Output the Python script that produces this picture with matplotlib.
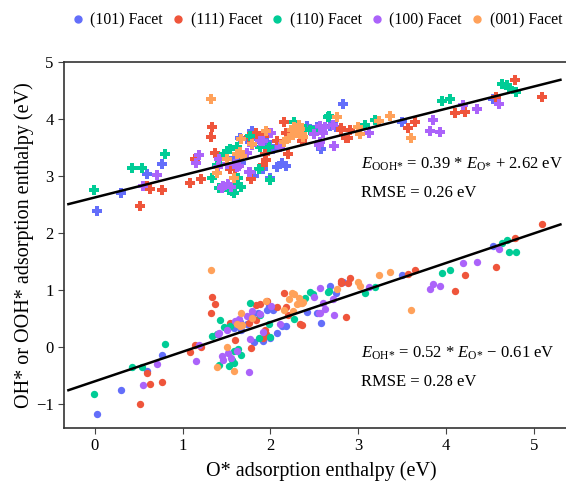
import matplotlib
matplotlib.use('Agg')
import matplotlib.pyplot as plt
from matplotlib.lines import Line2D

plt.rcParams['font.family'] = 'Liberation Serif'
plt.rcParams['mathtext.fontset'] = 'custom'
plt.rcParams['mathtext.rm'] = 'Liberation Serif'
plt.rcParams['mathtext.it'] = 'Liberation Serif:italic'

facets = ['(101) Facet', '(111) Facet', '(110) Facet', '(100) Facet', '(001) Facet']
colors = ['#636EFA', '#EF553B', '#00CC96', '#AB63FA', '#FFA15A']

# O*, OH*, OOH* adsorption enthalpies (eV) per facet
o_101 = [0.02, 0.30, 0.59, 0.77, 1.58, 1.65, 1.67, 1.73, 1.79, 1.81, 1.86, 1.91, 1.96, 1.98,
         2.00, 2.03, 2.07, 2.13, 2.18, 2.42, 2.53, 2.58, 2.68, 2.75, 2.82, 3.50, 4.53]
oh_101 = [-1.18, -0.76, -0.43, -0.14, 0.33, 0.43, 0.30, 0.39, 0.56, 0.08, 0.59, 0.09, 0.64, 0.71,
          0.15, 0.65, 0.24, 0.37, 0.36, 0.60, 0.59, 0.42, 1.06, 0.95, 1.14, 1.25, 1.76]
ooh_101 = [2.38, 2.69, 3.04, 3.20, 3.32, 3.67, 3.22, 3.64, 3.79, 2.99, 3.64, 3.12, 3.59, 3.52,
           2.97, 3.48, 3.16, 3.22, 3.17, 3.88, 3.85, 3.47, 3.88, 3.85, 4.27, 3.95, 4.35]

o_111 = [0.52, 0.60, 0.63, 0.77, 1.08, 1.14, 1.21, 1.32, 1.34, 1.37, 1.54, 1.60, 1.75, 1.78,
         1.83, 1.84, 1.88, 1.92, 1.94, 1.95, 1.96, 2.07, 2.15, 2.18, 2.20, 2.34, 2.36, 2.80,
         2.80, 2.86, 2.88, 2.90, 3.56, 3.64, 4.10, 4.21, 4.57, 4.78, 5.09]
oh_111 = [-1.01, -0.46, -0.66, -0.63, -0.09, 0.03, -0.01, 0.59, 0.87, 0.75, 0.42, 0.12, 0.42, -0.02,
          0.73, 0.46, 0.74, 0.15, 0.30, 0.22, 0.80, 0.70, 0.95, 0.70, 0.55, 0.39, 0.38, 1.16,
          1.11, 0.52, 1.12, 1.20, 1.27, 1.34, 0.97, 1.25, 1.40, 1.90, 2.15]
ooh_111 = [2.47, 2.82, 2.77, 2.75, 2.87, 3.30, 2.95, 3.68, 3.86, 3.40, 3.12, 3.12, 3.69, 2.94,
           3.75, 3.75, 3.69, 3.19, 3.38, 3.28, 3.76, 3.61, 3.94, 3.76, 3.39, 3.70, 3.62, 3.84,
           3.80, 3.66, 3.66, 3.80, 3.84, 3.95, 4.10, 4.13, 4.39, 4.68, 4.39]

o_110 = [-0.01, 0.42, 0.54, 0.80, 1.34, 1.39, 1.41, 1.43, 1.47, 1.50, 1.53, 1.54, 1.56, 1.58,
         1.59, 1.62, 1.63, 1.66, 1.77, 1.87, 1.88, 1.98, 2.00, 2.27, 2.39, 2.45, 2.48, 2.66,
         2.67, 3.08, 3.19, 3.95, 4.04, 4.63, 4.69, 4.72, 4.80]
oh_110 = [-0.84, -0.35, -0.35, 0.05, 0.18, 0.23, -0.33, 0.46, 0.35, 0.33, -0.34, 0.37, -0.23, -0.08,
          -0.29, 0.40, -0.04, -0.15, 0.76, 0.15, 0.56, 0.40, 0.17, 0.49, 0.86, 0.96, 0.92, 0.96,
          0.97, 0.95, 1.04, 1.29, 1.34, 1.82, 1.87, 1.67, 1.67]
ooh_110 = [2.76, 3.13, 3.13, 3.39, 2.97, 3.19, 2.78, 3.29, 3.38, 3.44, 2.76, 3.47, 2.73, 2.85,
           2.70, 3.50, 2.97, 2.80, 3.70, 3.12, 3.50, 3.51, 2.92, 3.94, 3.82, 3.80, 3.79, 4.03,
           4.06, 3.89, 3.98, 4.31, 4.35, 4.61, 4.60, 4.55, 4.48]

o_100 = [0.55, 0.71, 1.15, 1.19, 1.40, 1.41, 1.45, 1.46, 1.50, 1.52, 1.55, 1.60, 1.62, 1.64,
         1.73, 1.76, 1.77, 1.79, 1.88, 1.92, 2.01, 2.11, 2.49, 2.55, 2.56, 2.56, 2.60, 2.62,
         2.71, 2.72, 3.12, 3.81, 3.85, 3.93, 4.19, 4.35, 4.60]
oh_100 = [-0.67, -0.31, -0.25, 0.02, 0.22, 0.24, -0.17, -0.24, 0.29, -0.11, -0.20, 0.45, -0.08, 0.49,
          0.53, -0.45, 0.14, 0.63, 0.58, 0.26, 0.71, 0.39, 0.88, 0.59, 0.59, 1.03, 0.76, 0.66,
          0.84, 0.55, 1.04, 1.01, 1.10, 1.07, 1.47, 1.49, 1.72]
ooh_100 = [2.82, 3.02, 3.22, 3.36, 3.15, 3.29, 2.79, 2.82, 3.20, 2.85, 2.80, 3.20, 3.15, 3.18,
           3.41, 3.07, 3.07, 3.55, 3.61, 3.61, 3.76, 3.50, 3.73, 3.55, 3.59, 3.88, 3.76, 3.85,
           3.90, 3.53, 3.76, 3.78, 3.98, 3.77, 4.24, 4.18, 4.26]

o_001 = [1.32, 1.39, 1.50, 1.59, 1.62, 1.65, 1.67, 1.68, 1.79, 1.95, 2.15, 2.21, 2.24, 2.26,
         2.27, 2.30, 2.33, 2.34, 2.37, 2.36, 2.76, 3.00, 3.02, 3.24, 3.36, 3.60]
oh_001 = [1.34, -0.36, 0.00, -0.42, 0.39, 0.36, 0.59, 0.38, 0.50, 0.80, 0.65, 0.83, 0.95, 0.62,
          0.92, 0.74, 0.85, 0.77, 0.79, 0.77, 1.01, 1.14, 1.07, 1.26, 1.31, 0.64]
ooh_001 = [4.35, 3.05, 3.29, 2.97, 3.38, 3.42, 3.64, 3.35, 3.56, 3.79, 3.60, 3.66, 3.80, 3.72,
           3.86, 3.75, 3.90, 3.83, 3.68, 3.73, 4.03, 3.85, 3.74, 3.97, 4.05, 3.67]

o_vals = [o_101, o_111, o_110, o_100, o_001]
oh_vals = [oh_101, oh_111, oh_110, oh_100, oh_001]
ooh_vals = [ooh_101, ooh_111, ooh_110, ooh_100, ooh_001]

# linear fits
ooh_slope, ooh_icpt, ooh_rmse = 0.39, 2.62, 0.26
oh_slope, oh_icpt, oh_rmse = 0.52, -0.61, 0.28
fit_x = [-0.3, 5.3]

fig = plt.figure(figsize=(5.66, 4.83), dpi=100)
ax = fig.add_axes([64 / 566, 55 / 483, 514 / 566, 366 / 483])

for xs, oh, ooh, c in zip(o_vals, oh_vals, ooh_vals, colors):
    ax.scatter(xs, ooh, marker='P', s=48, color=c, linewidths=0, zorder=2)
    ax.scatter(xs, oh, marker='o', s=28, color=c, linewidths=0, zorder=2)

ax.plot(fit_x, [ooh_slope * x + ooh_icpt for x in fit_x], color='black', lw=1.8, zorder=3)
ax.plot(fit_x, [oh_slope * x + oh_icpt for x in fit_x], color='black', lw=1.8, zorder=3)

# braces keep mathtext from spacing the asterisk as a binary operator
ooh_eq = r'$E_{\mathrm{OOH}{*}}$ = %.2f * $E_{\mathrm{O}{*}}$ + %.2f eV' % (ooh_slope, ooh_icpt)
oh_eq = r'$E_{\mathrm{OH}{*}}$ = %.2f * $E_{\mathrm{O}{*}}$ − %.2f eV' % (oh_slope, -oh_icpt)
ax.text(3.03, 3.20, ooh_eq, fontsize=12, va='center')
ax.text(3.03, 2.69, 'RMSE = %.2f eV' % ooh_rmse, fontsize=12, va='center')
ax.text(3.03, -0.11, oh_eq, fontsize=12, va='center')
ax.text(3.03, -0.63, 'RMSE = %.2f eV' % oh_rmse, fontsize=12, va='center')

ax.set_xlim(-0.35, 5.5)
ax.set_ylim(-1.43, 5.0)
ax.set_xticks([0, 1, 2, 3, 4, 5])
ax.set_yticks([-1, 0, 1, 2, 3, 4, 5])
ax.tick_params(labelsize=12, direction='out', length=4, color='#444444')
for s in ax.spines.values():
    s.set_color('#333333')
    s.set_linewidth(1.2)

ax.set_xlabel('O* adsorption enthalpy (eV)', fontsize=14.5, labelpad=5)
ax.set_ylabel('OH* or OOH* adsorption enthalpy (eV)', fontsize=14.5, labelpad=1)

handles = [Line2D([], [], marker='o', ls='none', color=c, markersize=5) for c in colors]
fig.legend(handles, facets, loc='center', bbox_to_anchor=(316 / 566, 1 - 20 / 483), ncol=5,
           frameon=False, fontsize=11.3, handletextpad=0.31, columnspacing=0.45,
           handlelength=1.0, borderpad=0.2)

fig.savefig('out.png', dpi=100)
